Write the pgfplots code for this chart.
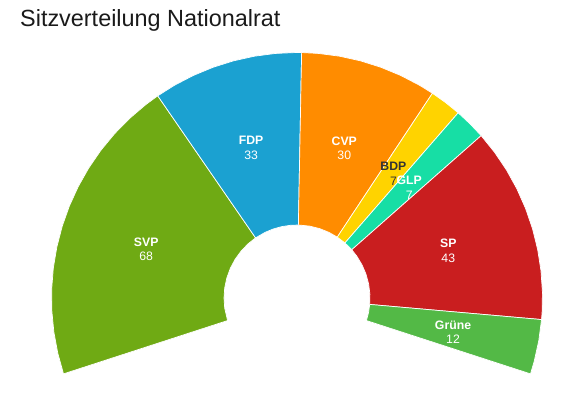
\documentclass[border=0pt]{standalone}
\usepackage{pgfplots}
\pgfplotsset{compat=1.18}
\usepackage{fontspec}
\setmainfont{Liberation Sans}
\definecolor{svp}{HTML}{6FAA14}
\definecolor{fdp}{HTML}{1BA1D1}
\definecolor{cvp}{HTML}{FF8C00}
\definecolor{bdp}{HTML}{FFD300}
\definecolor{glp}{HTML}{17DEA5}
\definecolor{sp}{HTML}{C91E1F}
\definecolor{gruene}{HTML}{53B946}
\definecolor{titlec}{HTML}{1A1A1A}
\definecolor{darklab}{HTML}{333333}
\begin{document}
\begin{tikzpicture}
\begin{axis}[
  scale only axis, width=582bp, height=398bp,
  xmin=-297, xmax=285, ymin=-100, ymax=298,
  hide axis, clip=false,
  every axis plot/.append style={data cs=polar, draw=white, line width=0.7bp},
]
\path (rel axis cs:0,0) rectangle (rel axis cs:1,1);
% SVP 68 seats
\addplot[fill=svp] coordinates {
 (198,245.5) (193,245.5) (188,245.5) (183,245.5) (178,245.5) (173,245.5) (168,245.5)
 (163,245.5) (158,245.5) (153,245.5) (148,245.5) (143,245.5) (138,245.5) (133,245.5)
 (128,245.5) (124.56,245.5)
 (124.56,73) (132,73) (140,73) (148,73) (156,73) (164,73) (172,73) (180,73) (188,73) (198,73)
 (198,245.5)};
% FDP 33 seats
\addplot[fill=fdp] coordinates {
 (124.56,245.5) (120,245.5) (115,245.5) (110,245.5) (105,245.5) (100,245.5) (95,245.5)
 (90,245.5) (88.92,245.5)
 (88.92,73) (95,73) (102,73) (109,73) (116,73) (124.56,73)
 (124.56,245.5)};
% CVP 30 seats
\addplot[fill=cvp] coordinates {
 (88.92,245.5) (85,245.5) (80,245.5) (75,245.5) (70,245.5) (65,245.5) (60,245.5) (56.52,245.5)
 (56.52,73) (64,73) (72,73) (80,73) (88.92,73)
 (88.92,245.5)};
% BDP 7 seats
\addplot[fill=bdp] coordinates {
 (56.52,245.5) (52.74,245.5) (48.96,245.5)
 (48.96,73) (56.52,73)
 (56.52,245.5)};
% GLP 7 seats
\addplot[fill=glp] coordinates {
 (48.96,245.5) (45.18,245.5) (41.40,245.5)
 (41.40,73) (48.96,73)
 (48.96,245.5)};
% SP 43 seats
\addplot[fill=sp] coordinates {
 (41.40,245.5) (36.4,245.5) (31.4,245.5) (26.4,245.5) (21.4,245.5) (16.4,245.5) (11.4,245.5)
 (6.4,245.5) (1.4,245.5) (-3,245.5) (-5.04,245.5)
 (-5.04,73) (3,73) (11,73) (19,73) (27,73) (35,73) (41.40,73)
 (41.40,245.5)};
% Gruene 12 seats
\addplot[fill=gruene] coordinates {
 (-5.04,245.5) (-10,245.5) (-15,245.5) (-18,245.5)
 (-18,73) (-11.5,73) (-5.04,73)
 (-5.04,245.5)};
% labels
\addplot[draw=none, mark=none, point meta=explicit symbolic,
  nodes near coords, nodes near coords style={anchor=center, align=center, yshift=-2.5bp,
  text=white, font=\fontsize{12.3}{14.6}\selectfont}] coordinates {
 (161.28,159.25) [\textbf{SVP}\\68]
 (106.74,159.25) [\textbf{FDP}\\33]
 (72.72,159.25) [\textbf{CVP}\\30]
 (45.18,159.25) [\textbf{GLP}\\7]
 (18.18,159.25) [\textbf{SP}\\43]
 (-11.52,159.25) [\textbf{Grüne}\\12]
};
\addplot[draw=none, mark=none, point meta=explicit symbolic,
  nodes near coords, nodes near coords style={anchor=center, align=center, yshift=-2.5bp,
  text=darklab, font=\fontsize{12.3}{14.6}\selectfont}] coordinates {
 (52.74,159.25) [\textbf{BDP}\\7]
};
\node[anchor=base west, text=titlec, font=\fontsize{23.5}{28}\selectfont, inner sep=0pt]
  at (axis cs:-277,271.3) {Sitzverteilung Nationalrat};
\end{axis}
\end{tikzpicture}
\end{document}
